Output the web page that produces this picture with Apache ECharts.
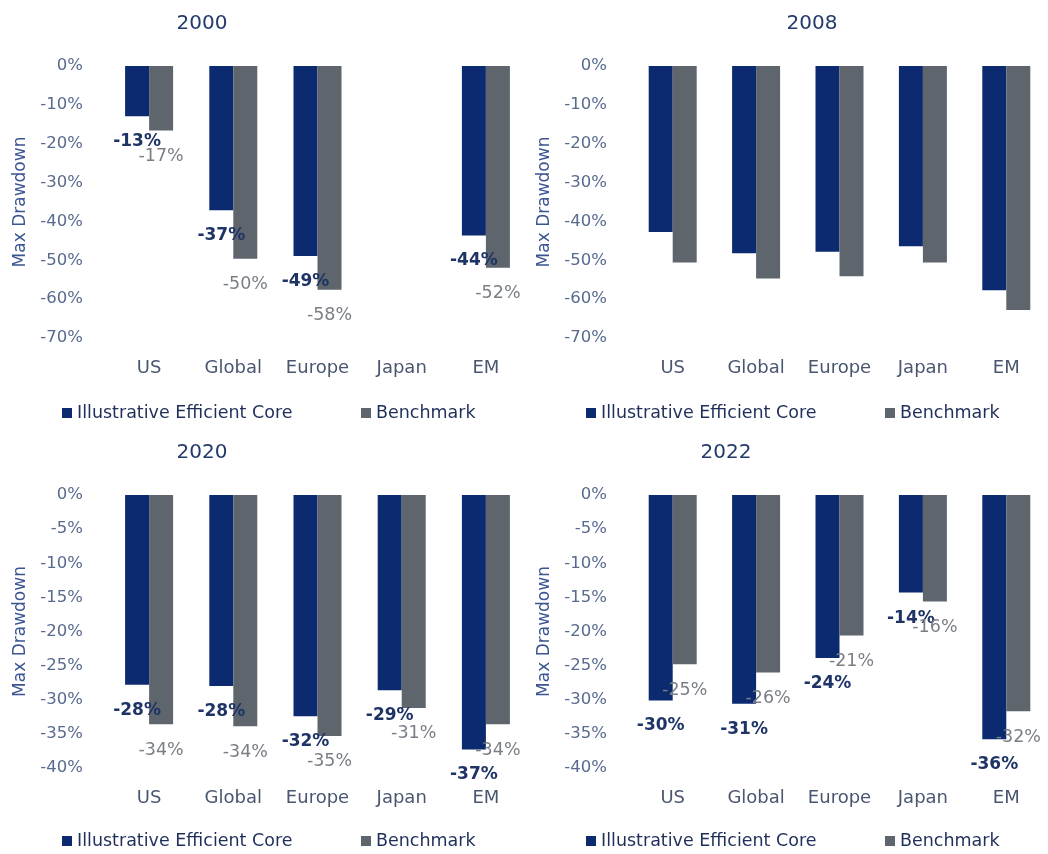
<!DOCTYPE html>
<html>
<head>
<meta charset="utf-8">
<script src="https://cdn.jsdelivr.net/npm/echarts@6/dist/echarts.min.js"></script>
<style>
html,body{margin:0;padding:0;background:#fff;}
#chart{width:1048px;height:854px;}
</style>
</head>
<body>
<div id="chart"></div>
<script>
const categories = ['US', 'Global', 'Europe', 'Japan', 'EM'];
const panelTitles = ['2000', '2008', '2020', '2022'];
const seriesNames = ['Illustrative Efficient Core', 'Benchmark'];

const core2000 = [-12.9, -37.1, -48.9, null, -43.6];
const bench2000 = [-16.6, -49.6, -57.6, null, -51.9];
const core2008 = [-42.7, -48.2, -47.8, -46.4, -57.7];
const bench2008 = [-50.6, -54.7, -54.1, -50.6, -62.8];
const core2020 = [-27.8, -28.0, -32.4, -28.6, -37.3];
const bench2020 = [-33.6, -33.9, -35.3, -31.2, -33.6];
const core2022 = [-30.1, -30.6, -23.9, -14.3, -35.8];
const bench2022 = [-24.8, -26.0, -20.6, -15.6, -31.7];

const yMins = [-70, -70, -40, -40];
const yIntervals = [10, 10, 5, 5];
const showLabels = [true, false, true, true];

const coreData = [core2000, core2008, core2020, core2022];
const benchData = [bench2000, bench2008, bench2020, bench2022];

const FONT = 'DejaVu Sans';
const BLUE = '#0b2a6f';
const GREY = '#5e656d';

const panels = [
  {ox: 0, top: 66, h: 272, titleX: 197, titleY: 9, legendY: 399},
  {ox: 524, top: 66, h: 272, titleX: 807, titleY: 9, legendY: 399},
  {ox: 0, top: 495, h: 273, titleX: 197, titleY: 438, legendY: 827},
  {ox: 524, top: 495, h: 273, titleX: 721, titleY: 438, legendY: 827}
];

const option = {
  backgroundColor: '#ffffff',
  animation: false,
  textStyle: {fontFamily: FONT},
  title: [], grid: [], xAxis: [], yAxis: [], legend: [], series: []
};

panels.forEach((p, i) => {
  option.title.push({
    text: panelTitles[i], left: p.titleX, top: p.titleY, textAlign: 'center',
    textStyle: {fontFamily: FONT, fontSize: 20, fontWeight: 'normal', color: '#233a6b'}
  });
  option.grid.push({left: p.ox + 107, top: p.top, width: 421, height: p.h});
  option.xAxis.push({
    type: 'category', gridIndex: i, data: categories, position: 'bottom',
    axisLine: {show: false, onZero: false}, axisTick: {show: false},
    splitLine: {show: false},
    axisLabel: {margin: 21, fontFamily: FONT, fontSize: 18, color: '#4a5670'}
  });
  option.yAxis.push({
    type: 'value', gridIndex: i, min: yMins[i], max: 0, interval: yIntervals[i],
    axisLine: {show: false}, axisTick: {show: false}, splitLine: {show: false},
    axisLabel: {formatter: '{value}%', margin: 24, fontFamily: FONT, fontSize: 16.5, color: '#586a8e'},
    name: 'Max Drawdown', nameLocation: 'middle', nameGap: 78,
    nameTextStyle: {fontFamily: FONT, fontSize: 17, color: '#3b5590'}
  });
  option.legend.push({
    left: p.ox + 57, top: p.legendY, data: [seriesNames[0]], icon: 'rect',
    itemWidth: 10, itemHeight: 10, itemGap: 0, itemTextGap: 9,
    textStyle: {fontFamily: FONT, fontSize: 17.5, color: '#1f2f5a'}
  });
  option.legend.push({
    left: p.ox + 356, top: p.legendY, data: [seriesNames[1]], icon: 'rect',
    itemWidth: 10, itemHeight: 10, itemGap: 0, itemTextGap: 9,
    textStyle: {fontFamily: FONT, fontSize: 17.5, color: '#1f2f5a'}
  });
  const fmt = (prm) => (prm.value == null ? '' : Math.round(prm.value) + '%');
  option.series.push({
    name: seriesNames[0], type: 'bar', xAxisIndex: i, yAxisIndex: i,
    data: coreData[i], barWidth: 24, barGap: '0%',
    itemStyle: {color: BLUE},
    label: {show: showLabels[i], position: 'bottom', distance: 17, formatter: fmt,
      fontFamily: FONT, fontSize: 17, fontWeight: 'bold', color: '#1f3466'}
  });
  option.series.push({
    name: seriesNames[1], type: 'bar', xAxisIndex: i, yAxisIndex: i,
    data: benchData[i], barWidth: 24, barGap: '0%',
    itemStyle: {color: GREY},
    label: {show: showLabels[i], position: 'bottom', distance: 17, formatter: fmt,
      fontFamily: FONT, fontSize: 17.5, color: '#7a7f86'}
  });
});

const chart = echarts.init(document.getElementById('chart'), null, {renderer: 'canvas'});
chart.setOption(option);
</script>
</body>
</html>
